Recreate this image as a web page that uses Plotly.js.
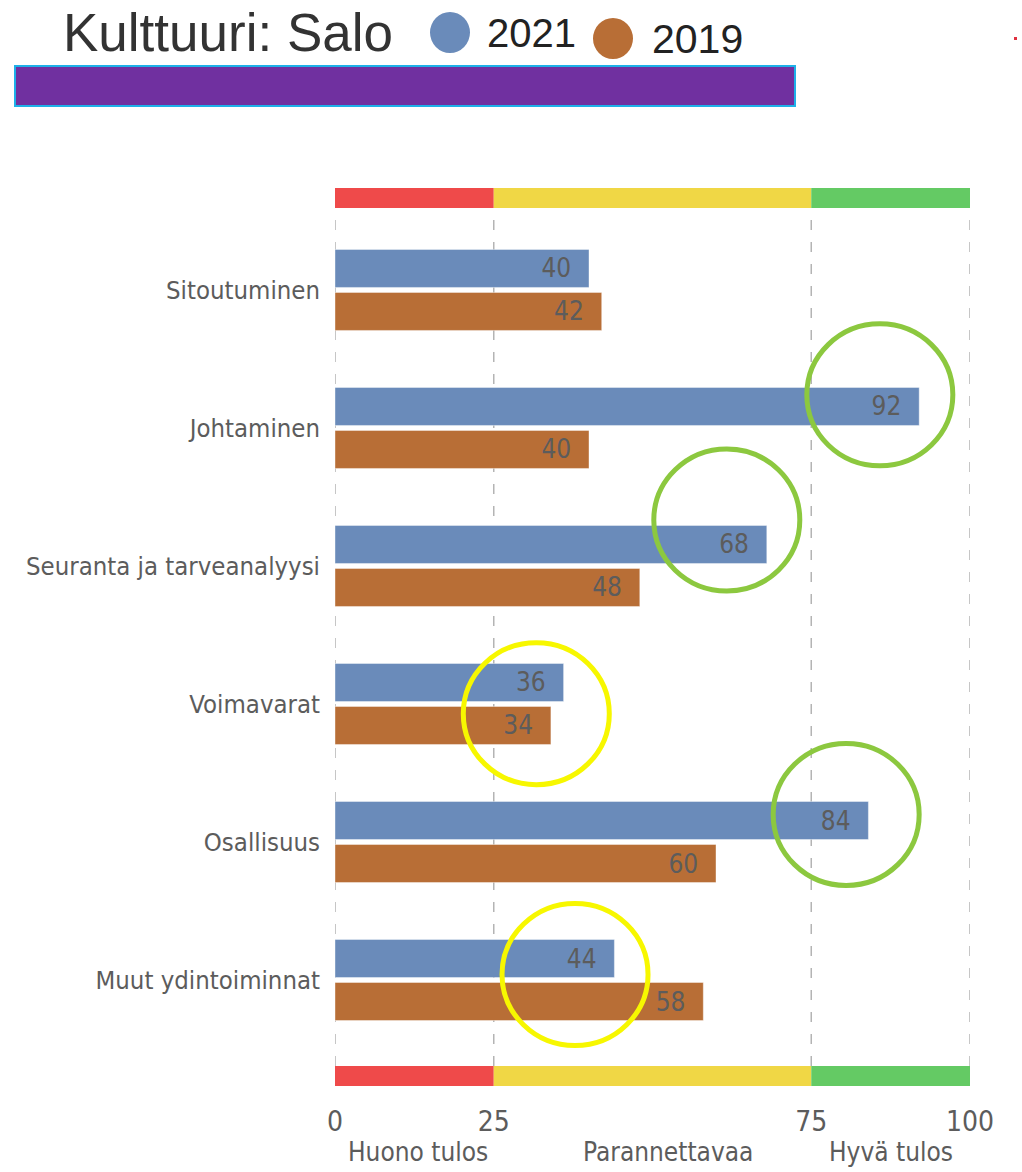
<!DOCTYPE html>
<html>
<head>
<meta charset="utf-8">
<script src="https://cdn.plot.ly/plotly-3.0.1.min.js"></script>
<style>html,body{margin:0;padding:0;background:#fff;}#chart{width:1022px;height:1172px;}</style>
</head>
<body>
<div id="chart"></div>
<script>
// ---- data ----
const categories = ["Sitoutuminen", "Johtaminen", "Seuranta ja tarveanalyysi", "Voimavarat", "Osallisuus", "Muut ydintoiminnat"];
const seriesNames = ["2021", "2019"];
const values2021 = [40, 92, 68, 36, 84, 44];
const values2019 = [42, 40, 48, 34, 60, 58];
const tickValues = [0, 25, 75, 100];
const tickLabels = ["0", "25", "75", "100"];
const bandEdges = [0, 25, 75, 100];
const bandNames = ["Huono tulos", "Parannettavaa", "Hyvä tulos"];
const bandLabelX = [13, 52.5, 87.5];
const chartTitle = "Kulttuuri: Salo";
// highlight circles: x centre (value), category position, colour kind
const highlightX = [85.8, 61.7, 80.5, 31.7, 37.8];
const highlightY = [0.76, 1.667, 3.80, 3.07, 4.96];
const highlightKind = ["green", "green", "green", "yellow", "yellow"];

// ---- styles ----
const colors = ["#6a8bba", "#b86e36"];
const bandColors = ["#ef4a4a", "#f0d745", "#64ca64"];
const ringColors = {green: "#8cc83f", yellow: "#f7f700"};
const labelFont = "'DejaVu Sans Condensed', 'Liberation Sans Narrow', sans-serif";

const W = 1022, H = 1172;
const L = 335, R = 52, T = 215, B = 106;
const plotW = W - L - R, plotH = H - T - B;
const px = x => (x - L) / plotW;         // pixel -> paper x
const py = y => (H - B - y) / plotH;     // pixel -> paper y

const catIdx = categories.map((c, i) => i);

const traces = [values2021, values2019].map((vals, k) => ({
  type: "bar",
  orientation: "h",
  name: seriesNames[k],
  y: catIdx,
  x: vals,
  marker: {color: colors[k], line: {color: "rgba(255,255,255,0.4)", width: 1}},
  text: vals.map(v => String(v)),
  texttemplate: "%{text}\u00a0\u00a0",
  textposition: "inside",
  insidetextanchor: "end",
  constraintext: "none",
  textfont: {family: labelFont, size: 26, color: "#5c5c5c"},
  showlegend: false,
  hoverinfo: "skip"
}));

const shapes = [];
// dashed grid lines
tickValues.forEach(v => {
  shapes.push({type: "line", xref: "x", yref: "paper", x0: v, x1: v, y0: 0, y1: 1,
    line: {color: "#b4b4b4", width: 1.5, dash: "10px,12px"}, layer: "below"});
});
// colour bands top and bottom
for (let i = 0; i < bandColors.length; i++) {
  shapes.push({type: "rect", xref: "x", yref: "paper", x0: bandEdges[i], x1: bandEdges[i+1],
    y0: py(208), y1: py(188), fillcolor: bandColors[i], line: {width: 0}, layer: "above"});
  shapes.push({type: "rect", xref: "x", yref: "paper", x0: bandEdges[i], x1: bandEdges[i+1],
    y0: py(1086), y1: py(1066), fillcolor: bandColors[i], line: {width: 0}, layer: "above"});
}
// highlight rings
for (let i = 0; i < highlightX.length; i++) {
  shapes.push({type: "circle", xref: "x", yref: "y", xsizemode: "pixel", ysizemode: "pixel",
    xanchor: highlightX[i], yanchor: highlightY[i], x0: -73, x1: 73, y0: -71, y1: 71,
    line: {color: ringColors[highlightKind[i]], width: 5}, fillcolor: "rgba(0,0,0,0)", layer: "above"});
}
// header: purple bar
shapes.push({type: "rect", xref: "paper", yref: "paper", x0: px(15), x1: px(795), y0: py(106), y1: py(66),
  fillcolor: "#7030a0", line: {color: "#1eb0e8", width: 2}});
// legend circles
shapes.push({type: "circle", xref: "paper", yref: "paper", x0: px(430), x1: px(470), y0: py(53), y1: py(12),
  fillcolor: colors[0], line: {width: 0}});
shapes.push({type: "circle", xref: "paper", yref: "paper", x0: px(593), x1: px(633), y0: py(59), y1: py(18),
  fillcolor: colors[1], line: {width: 0}});
// tiny red mark top right
shapes.push({type: "rect", xref: "paper", yref: "paper", x0: px(1014), x1: px(1017), y0: py(40), y1: py(37),
  fillcolor: "#e03040", line: {width: 0}});

const annotations = [
  {text: chartTitle, xref: "paper", yref: "paper", x: px(61), y: py(32), xanchor: "left", yanchor: "middle",
   showarrow: false, font: {family: "'Liberation Sans', Arial, sans-serif", size: 53, color: "#333"}},
  {text: seriesNames[0], xref: "paper", yref: "paper", x: px(485), y: py(33), xanchor: "left", yanchor: "middle",
   showarrow: false, font: {family: "'Liberation Sans', Arial, sans-serif", size: 40, color: "#222"}},
  {text: seriesNames[1], xref: "paper", yref: "paper", x: px(650), y: py(39), xanchor: "left", yanchor: "middle",
   showarrow: false, font: {family: "'Liberation Sans', Arial, sans-serif", size: 41, color: "#222"}}
];
for (let i = 0; i < bandNames.length; i++) {
  annotations.push({text: bandNames[i], xref: "x", yref: "paper", x: bandLabelX[i], y: py(1152),
    xanchor: "center", yanchor: "middle", showarrow: false,
    font: {family: labelFont, size: 26, color: "#5c5c5c"}});
}

const layout = {
  width: W, height: H,
  margin: {l: L, r: R, t: T, b: B, pad: 0},
  paper_bgcolor: "#fff", plot_bgcolor: "#fff",
  barmode: "group", bargap: 0.377, bargroupgap: 0.116,
  showlegend: false,
  hovermode: false,
  xaxis: {
    range: [0, 100], tickvals: tickValues, ticktext: tickLabels,
    showgrid: false, zeroline: false, showline: false, ticks: "",
    ticklabelstandoff: 36,
    tickfont: {family: labelFont, size: 28, color: "#5c5c5c"},
    fixedrange: true
  },
  yaxis: {
    range: [5.623, -0.543], tickmode: "array", tickvals: catIdx, ticktext: categories,
    showgrid: false, zeroline: false, showline: false, ticks: "",
    ticklabelstandoff: 14,
    tickfont: {family: labelFont, size: 25.5, color: "#5c5c5c"},
    fixedrange: true
  },
  shapes: shapes,
  annotations: annotations
};

Plotly.newPlot("chart", traces, layout, {displayModeBar: false, staticPlot: true});
</script>
</body>
</html>
